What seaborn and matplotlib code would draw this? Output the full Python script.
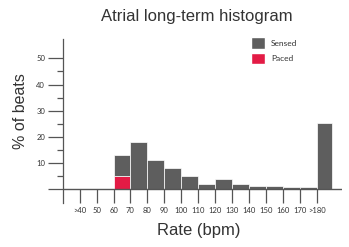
import pandas as pd
import matplotlib.pyplot as plt
import seaborn as sns
from matplotlib.patches import Patch

# binned rates (left edge of each bin, bpm) and % of beats per bin
rate_left = [40, 50, 60, 70, 80, 90, 100, 110, 120, 130, 140, 150, 160, 170, 180]
bin_width = [10, 10, 10, 10, 10, 10, 10, 10, 10, 10, 10, 10, 10, 10, 8.8]
sensed = [0, 0, 7.9, 18.0, 11.2, 8.2, 5.1, 2.0, 3.6, 2.0, 1.3, 1.3, 1.1, 1.1, 25.2]
paced = [0, 0, 5.3, 0, 0, 0, 0, 0, 0.3, 0, 0, 0, 0, 0, 0]

tick_rates = [40, 50, 60, 70, 80, 90, 100, 110, 120, 130, 140, 150, 160, 170, 180]
tick_labels = ['>40', '50', '60', '70', '80', '90', '100', '110', '120', '130',
               '140', '150', '160', '170', '>180']
y_ticks = [0, 10, 20, 30, 40, 50]
y_labels = ['', '10', '20', '30', '40', '50']
y_minor = [5, 15, 25, 35, 45]

edges = rate_left + [rate_left[-1] + bin_width[-1]]
centers = [l + w / 2 for l, w in zip(rate_left, bin_width)]
df = pd.DataFrame({
    'rate': centers * 2,
    'pct': sensed + paced,
    'type': ['Sensed'] * len(sensed) + ['Paced'] * len(paced),
})

sns.set_style('white')
plt.rcParams['font.family'] = ['Liberation Sans', 'DejaVu Sans']

gray = '#5e5e5e'
red = '#e31b45'
axis_col = '#555555'
text_col = '#333333'

fig = plt.figure(figsize=(3.49, 2.47), dpi=100)
ax = fig.add_axes([62.7 / 349, 43.7 / 247, 279.4 / 349, 164.3 / 247])

sns.histplot(data=df, x='rate', weights='pct', hue='type',
             hue_order=['Sensed', 'Paced'], bins=edges, multiple='stack',
             palette={'Sensed': gray, 'Paced': red}, alpha=1,
             edgecolor='white', linewidth=0.5, legend=False, ax=ax)

ax.set_xlim(30, 195)
ax.set_ylim(-5.3, 57.4)
ax.axhline(0, color=axis_col, lw=1, zorder=3)

for s in ['top', 'right', 'bottom']:
    ax.spines[s].set_visible(False)
ax.spines['left'].set_color(axis_col)
ax.spines['left'].set_linewidth(0.9)

ax.set_xticks(tick_rates, tick_labels, fontsize=5.5, family='Lato', color=text_col)
ax.tick_params(axis='x', bottom=True, direction='in', length=10.1, width=0.9,
               color=axis_col, pad=3)
ax.set_yticks(y_ticks, y_labels, fontsize=5.5, family='Lato', color=text_col)
ax.set_yticks(y_minor, minor=True)
ax.tick_params(axis='y', which='both', left=True)
ax.tick_params(axis='y', which='major', direction='out', length=10.6, width=0.9,
               color=axis_col, pad=2)
ax.tick_params(axis='y', which='minor', direction='out', length=4.3, width=0.9,
               color=axis_col)
ax.set_xlabel('')
ax.set_ylabel('')

fig.text(196.7 / 349, 1 - 21 / 247, 'Atrial long-term histogram', ha='center',
         va='baseline', fontsize=12, color=text_col)
fig.text(21 / 349, 1 - 111 / 247, '% of beats', rotation=90, ha='center',
         va='center', fontsize=11.5, color=text_col)
fig.text(199 / 349, 1 - 234.7 / 247, 'Rate (bpm)', ha='center', va='baseline',
         fontsize=12, color=text_col)

handles = [Patch(facecolor=gray, label='Sensed'), Patch(facecolor=red, label='Paced')]
fig.legend(handles=handles, loc='upper left', bbox_to_anchor=(251 / 349, 1 - 37.3 / 247),
           frameon=False, borderpad=0, borderaxespad=0, handlelength=1.72,
           handleheight=1.72, labelspacing=0.52, handletextpad=0.68,
           prop={'family': 'Lato', 'size': 6}, labelcolor=text_col)

fig.savefig('out.png', dpi=100)
